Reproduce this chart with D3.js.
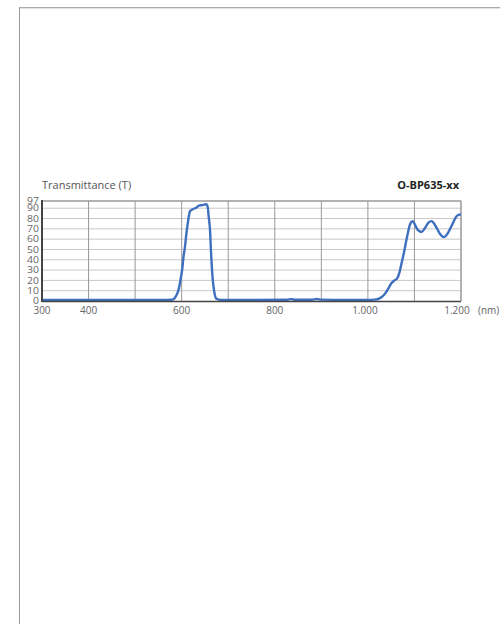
<!DOCTYPE html>
<html><head><meta charset="utf-8">
<script src="https://cdn.jsdelivr.net/npm/d3@7"></script>
<style>
html,body{margin:0;padding:0;background:#fff;}
svg{display:block;font-family:"Open Sans","Noto Sans",sans-serif;}
</style></head>
<body><svg id="c" width="500" height="624"></svg>
<script>
const wavelengths = [300,400,500,560,578,583,588,594,598,601.5,604,607.5,610,612.7,615,617.8,624,631,637,644,649,653,656,658,661,663,666,670,675,685,700,760,827,835,845,880,890,900,950,1000,1015,1025,1035,1045,1050,1057,1063,1068,1072,1077,1084,1091,1096,1100,1107,1115,1123,1130,1137,1145,1155,1163,1172,1182,1190,1195,1200];
const transmittance = [1,1,1,1,1.2,2,5,12,22,32,43,54,65,74,81,87,89,90.5,92.5,93,93.5,94,91,82,68,48,25,9,2,1,1,1,1.2,1.8,1.2,1.2,2,1.3,1,1,1.3,2.5,6,13,17,20,22,28,36,46,62,75,77.5,75,69,67,71,76,77.5,73,65,62,66,75,82,83.5,84];
const xTicks = [300,400,500,600,700,800,900,1000,1100,1200];
const xTickLabels = {300:"300",400:"400",600:"600",800:"800",1000:"1.000",1200:"1.200"};
const yTicks = [0,10,20,30,40,50,60,70,80,90,97];
const title = "Transmittance (T)";
const product = "O-BP635-xx";
const unit = "(nm)";

const svg = d3.select("#c");
const L=42, R=461, T=201, B=301;
const x = d3.scaleLinear().domain([300,1200]).range([L,R]);
const y = d3.scaleLinear().domain([0,97]).range([B,T]);

// page border
svg.append("line").attr("x1",19.5).attr("x2",19.5).attr("y1",7).attr("y2",624).attr("stroke","#999").attr("stroke-width",1);
svg.append("line").attr("x1",19).attr("x2",500).attr("y1",7.5).attr("y2",7.5).attr("stroke","#aaa").attr("stroke-width",1);
svg.append("line").attr("x1",20).attr("x2",500).attr("y1",8.5).attr("y2",8.5).attr("stroke","#e4e4e4").attr("stroke-width",1);

// horizontal grid
svg.append("g").selectAll("line").data(yTicks.filter(d=>d>0 && d<97)).join("line")
  .attr("x1",L).attr("x2",R).attr("y1",d=>y(d)).attr("y2",d=>y(d))
  .attr("stroke","#c8c8c8").attr("stroke-width",1);
// vertical grid
svg.append("g").selectAll("line").data(xTicks.filter(d=>d>300 && d<1200)).join("line")
  .attr("x1",d=>x(d)).attr("x2",d=>x(d)).attr("y1",T).attr("y2",B)
  .attr("stroke","#999").attr("stroke-width",1);

// frame
svg.append("line").attr("x1",L).attr("x2",R).attr("y1",T).attr("y2",T).attr("stroke","#999").attr("stroke-width",1.5);
svg.append("line").attr("x1",R).attr("x2",R).attr("y1",T).attr("y2",B).attr("stroke","#999").attr("stroke-width",1.5);

// curve
const line = d3.line().x((d,i)=>x(wavelengths[i])).y(d=>y(d)).curve(d3.curveMonotoneX);
svg.append("path").attr("d",line(transmittance)).attr("fill","none")
  .attr("stroke","#3f6fbf").attr("stroke-width",2.4).attr("stroke-linejoin","round");

svg.append("line").attr("x1",L).attr("x2",L).attr("y1",T-1).attr("y2",B+1).attr("stroke","#444").attr("stroke-width",2);
svg.append("line").attr("x1",L).attr("x2",R).attr("y1",B+0.5).attr("y2",B+0.5).attr("stroke","#444").attr("stroke-width",1.5);

// y labels
svg.append("g").selectAll("text").data(yTicks).join("text")
  .attr("transform",d=>`translate(39,${y(d)+3.2}) scale(1,0.78)`)
  .attr("text-anchor","end").attr("font-size",10.5).attr("fill","#666").text(d=>d);

// x labels
svg.append("g").selectAll("text").data(xTicks.filter(d=>xTickLabels[d])).join("text")
  .attr("x",d=>d===1200? x(d)-4 : (d===1000? x(d)-3 : x(d))).attr("y",314)
  .attr("text-anchor","middle").attr("font-size",10).attr("fill","#666").text(d=>xTickLabels[d]);
svg.append("text").attr("x",478).attr("y",314).attr("font-size",10).attr("fill","#666").text(unit);

svg.append("text").attr("x",42).attr("y",189).attr("font-size",11).attr("fill","#555").text(title);
svg.append("text").attr("x",459).attr("y",189).attr("text-anchor","end").attr("font-size",11).attr("font-weight","bold").attr("fill","#222").text(product);
</script></body></html>
